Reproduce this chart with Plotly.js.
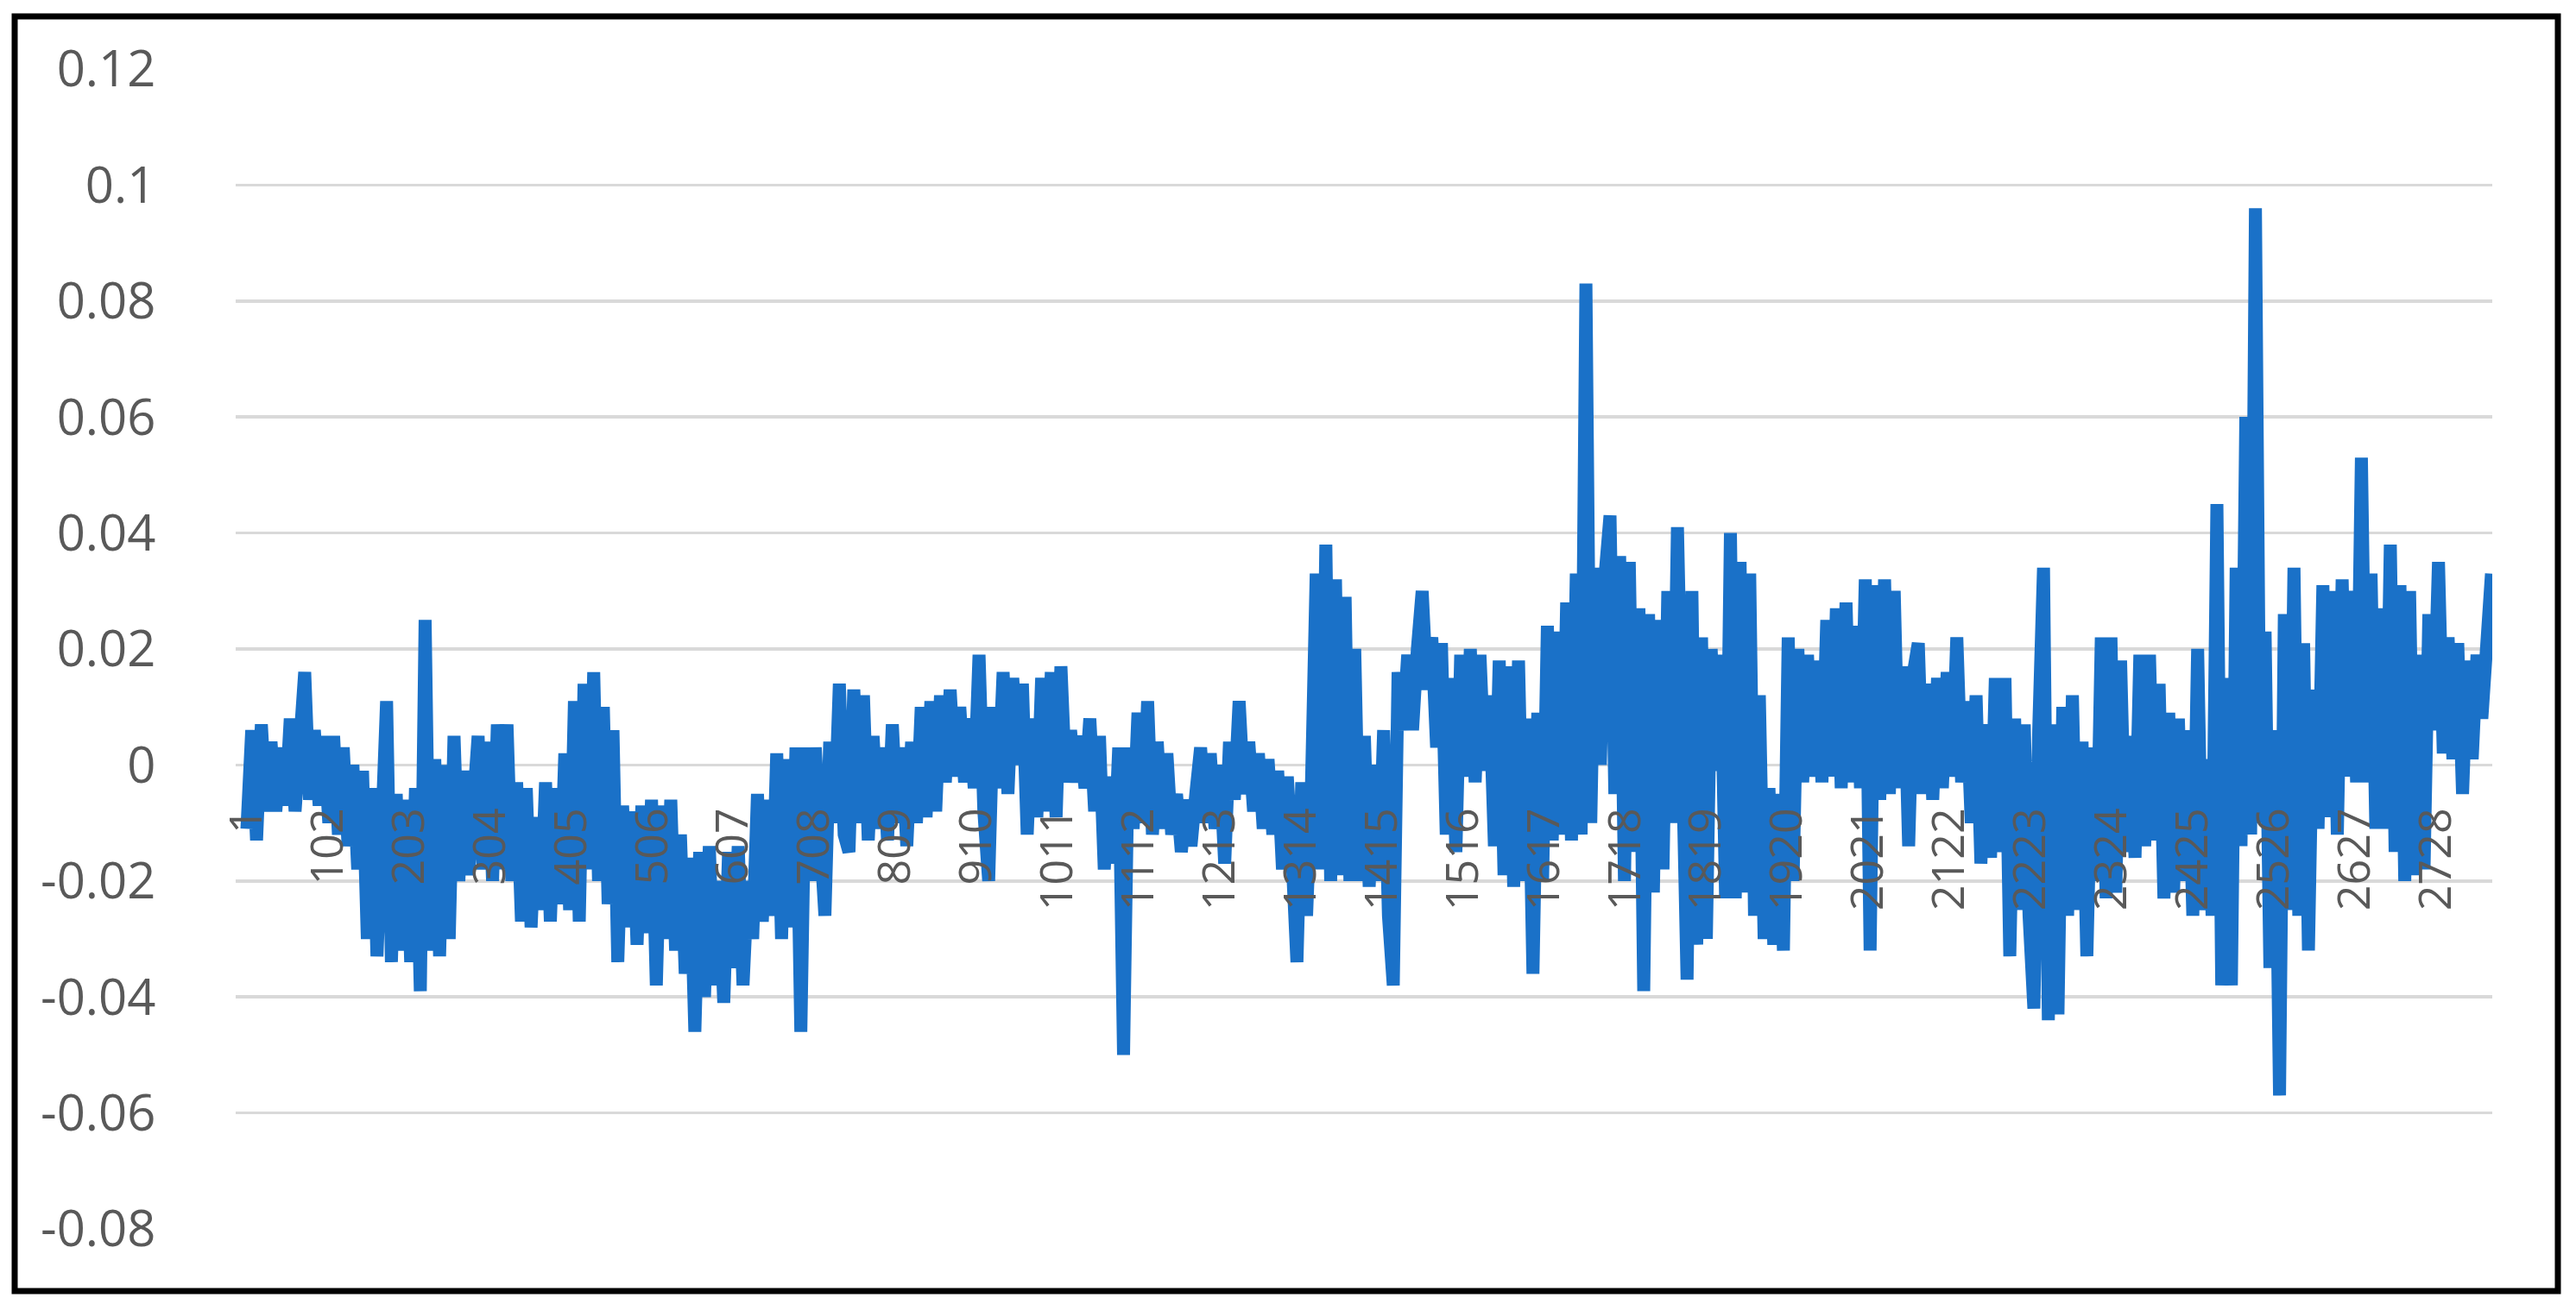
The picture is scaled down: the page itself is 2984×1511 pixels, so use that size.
<!DOCTYPE html>
<html>
<head>
<meta charset="utf-8">
<script src="https://cdn.plot.ly/plotly-3.0.1.min.js"></script>
<style>
html,body{margin:0;padding:0;background:#ffffff;}
#chart{width:2984px;height:1511px;}
</style>
</head>
<body>
<div id="chart"></div>
<script>
const returns = [
-0.011, 0.006, -0.013, 0.007, -0.008, 0.004, -0.008, 0.003, -0.007, 0.008,
-0.008, 0.006, 0.016, -0.006, 0.006, -0.007, 0.005, -0.010, 0.005, -0.012,
0.003, -0.014, 0.000, -0.018, -0.001, -0.030, -0.004, -0.033, -0.005, 0.011,
-0.034, -0.005, -0.032, -0.006, -0.034, -0.004, -0.039, 0.025, -0.032, 0.001,
-0.033, 0.000, -0.030, 0.005, -0.020, -0.001, -0.019, -0.002, 0.005, -0.018,
0.004, -0.020, 0.007, -0.018, 0.007, -0.020, -0.003, -0.027, -0.004, -0.028,
-0.009, -0.025, -0.003, -0.027, -0.004, -0.024, 0.002, -0.025, 0.011, -0.027,
0.014, -0.018, 0.016, -0.020, 0.010, -0.024, 0.006, -0.034, -0.007, -0.028,
-0.008, -0.031, -0.007, -0.029, -0.006, -0.038, -0.007, -0.030, -0.006, -0.032,
-0.012, -0.036, -0.016, -0.046, -0.015, -0.040, -0.014, -0.038, -0.020, -0.041,
-0.015, -0.035, -0.014, -0.038, -0.020, -0.030, -0.005, -0.027, -0.006, -0.026,
0.002, -0.030, 0.001, -0.028, 0.003, -0.046, 0.003, -0.020, 0.003, -0.012,
-0.026, 0.004, -0.010, 0.014, -0.012, -0.015, 0.013, -0.010, 0.012, -0.013,
0.005, -0.011, 0.003, -0.013, 0.007, -0.010, 0.003, -0.014, 0.004, -0.010,
0.010, -0.009, 0.011, -0.008, 0.012, -0.003, 0.013, -0.002, 0.010, -0.003,
0.008, -0.004, 0.019, -0.008, -0.020, 0.010, -0.004, 0.016, -0.005, 0.015,
0.000, 0.014, -0.012, 0.008, -0.009, 0.015, -0.008, 0.016, -0.009, 0.017,
-0.003, 0.006, -0.003, 0.005, -0.004, 0.008, -0.008, 0.005, -0.018, -0.002,
-0.017, 0.003, -0.050, 0.003, -0.011, 0.009, -0.010, 0.011, -0.012, 0.004,
-0.011, 0.002, -0.012, -0.005, -0.015, -0.006, -0.014, -0.005, 0.003, -0.010,
0.002, -0.011, 0.000, -0.017, 0.004, -0.006, 0.011, -0.005, 0.004, -0.008,
0.002, -0.011, 0.001, -0.012, -0.001, -0.018, -0.002, -0.016, -0.034, -0.003,
-0.026, -0.004, 0.033, -0.018, 0.038, -0.020, 0.032, -0.019, 0.029, -0.020,
0.020, -0.020, 0.005, -0.021, 0.000, -0.020, 0.006, -0.026, -0.038, 0.016,
0.006, 0.019, 0.006, 0.020, 0.030, 0.013, 0.022, 0.003, 0.021, -0.012,
0.015, -0.015, 0.019, -0.002, 0.020, -0.003, 0.019, -0.001, 0.012, -0.014,
0.018, -0.019, 0.017, -0.021, 0.018, -0.020, 0.008, -0.036, 0.009, -0.020,
0.024, -0.013, 0.023, -0.012, 0.028, -0.013, 0.033, -0.012, 0.083, -0.010,
0.034, 0.000, 0.033, 0.043, -0.005, 0.036, -0.020, 0.035, -0.015, 0.027,
-0.039, 0.026, -0.022, 0.025, -0.018, 0.030, -0.010, 0.041, -0.008, -0.037,
0.030, -0.031, 0.022, -0.030, 0.020, -0.001, 0.019, -0.023, 0.040, -0.023,
0.035, -0.022, 0.033, -0.026, 0.012, -0.030, -0.004, -0.031, -0.005, -0.032,
0.022, -0.020, 0.020, -0.003, 0.019, -0.002, 0.018, -0.003, 0.025, -0.002,
0.027, -0.004, 0.028, -0.003, 0.024, -0.004, 0.032, -0.032, 0.031, -0.006,
0.032, -0.005, 0.030, -0.004, 0.017, -0.014, 0.016, 0.021, -0.005, 0.014,
-0.006, 0.015, -0.004, 0.016, -0.002, 0.022, -0.003, 0.011, -0.010, 0.012,
-0.017, 0.007, -0.016, 0.015, -0.015, 0.015, -0.033, 0.008, -0.025, 0.007,
-0.026, -0.042, 0.006, 0.034, -0.044, 0.007, -0.043, 0.010, -0.026, 0.012,
-0.025, 0.004, -0.033, 0.003, -0.020, 0.022, -0.023, 0.022, -0.022, 0.018,
-0.015, 0.005, -0.016, 0.019, -0.014, 0.019, -0.013, 0.014, -0.023, 0.009,
-0.022, 0.008, -0.020, 0.006, -0.026, 0.020, -0.025, 0.001, -0.026, 0.045,
-0.038, 0.015, -0.038, 0.034, -0.014, 0.060, -0.012, 0.096, -0.010, 0.023,
-0.035, 0.006, -0.057, 0.026, -0.025, 0.034, -0.026, 0.021, -0.032, 0.013,
-0.011, 0.031, -0.009, 0.030, -0.012, 0.032, -0.002, 0.030, -0.003, 0.053,
-0.003, 0.033, -0.011, 0.027, -0.011, 0.038, -0.015, 0.031, -0.020, 0.030,
-0.019, 0.019, -0.018, 0.026, 0.006, 0.035, 0.002, 0.022, 0.001, 0.021,
-0.005, 0.018, 0.001, 0.019, 0.008, 0.019, 0.033
];
const observations = returns.map((v, i) => 1 + 6 * i);

const xTickValues = [1,102,203,304,405,506,607,708,809,910,1011,1112,1213,1314,1415,1516,1617,1718,1819,1920,2021,2122,2223,2324,2425,2526,2627,2728];
const xTickLabels = ['1','102','203','304','405','506','607','708','809','910','1011','1112','1213','1314','1415','1516','1617','1718','1819','1920','2021','2122','2223','2324','2425','2526','2627','2728'];
const yTickValues = [-0.08,-0.06,-0.04,-0.02,0,0.02,0.04,0.06,0.08,0.1,0.12];
const yTickLabels = ['-0.08','-0.06','-0.04','-0.02','0','0.02','0.04','0.06','0.08','0.1','0.12'];

const W = 2984, H = 1511;
const M = {l: 273, r: 97, t: 80, b: 87, pad: 0};
const PW = W - M.l - M.r, PH = H - M.t - M.b;
const px = v => (v - M.l) / PW;
const py = v => (H - M.b - v) / PH;

const trace = {
  type: 'scatter',
  mode: 'lines',
  x: observations,
  y: returns,
  line: {color: '#1A71C8', width: 15},
  hoverinfo: 'skip'
};

const layout = {
  width: W,
  height: H,
  margin: M,
  paper_bgcolor: '#ffffff',
  plot_bgcolor: '#ffffff',
  showlegend: false,
  font: {family: '"Open Sans", sans-serif', color: '#595959'},
  xaxis: {
    range: [-13, 2798],
    tickmode: 'array',
    tickvals: xTickValues,
    ticktext: xTickLabels,
    tickangle: -90,
    anchor: 'free',
    position: 0.4,
    showgrid: false,
    zeroline: false,
    showline: false,
    ticks: 'outside',
    ticklen: 28,
    tickcolor: 'rgba(0,0,0,0)',
    tickfont: {size: 52, color: '#595959', family: '"Open Sans", sans-serif'},
    fixedrange: true
  },
  yaxis: {
    range: [-0.08, 0.12],
    tickmode: 'array',
    tickvals: yTickValues,
    ticktext: yTickLabels,
    showgrid: true,
    gridcolor: '#d9d9d9',
    gridwidth: 3.5,
    zeroline: false,
    showline: false,
    ticks: 'outside',
    ticklen: 80,
    tickcolor: 'rgba(0,0,0,0)',
    tickfont: {size: 58, color: '#595959', family: '"Open Sans", sans-serif'},
    fixedrange: true
  },
  shapes: [{
    type: 'rect', xref: 'paper', yref: 'paper',
    x0: px(17), x1: px(2963),
    y0: py(1496), y1: py(19),
    line: {color: '#000000', width: 7},
    fillcolor: 'rgba(0,0,0,0)'
  }]
};

Plotly.newPlot('chart', [trace], layout, {displayModeBar: false, staticPlot: true});
</script>
</body>
</html>
